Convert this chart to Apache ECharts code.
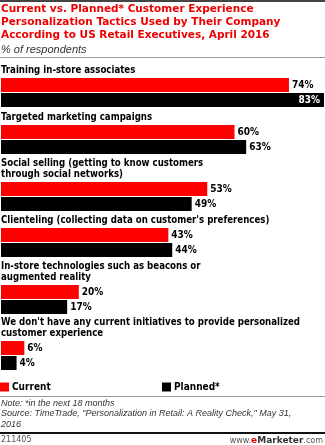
<!DOCTYPE html>
<html>
<head>
<meta charset="utf-8">
<script src="https://cdn.jsdelivr.net/npm/echarts@6/dist/echarts.min.js"></script>
<style>
  html, body { margin: 0; padding: 0; background: #fff; }
  #chart { width: 325px; height: 445px; }
</style>
</head>
<body>
<div id="chart"></div>
<script>
// Personalization tactics, % of respondents
const categories = [
  'Training in-store associates',
  'Targeted marketing campaigns',
  'Social selling (getting to know customers\nthrough social networks)',
  "Clienteling (collecting data on customer's preferences)",
  'In-store technologies such as beacons or\naugmented reality',
  "We don't have any current initiatives to provide personalized\ncustomer experience"
];
const currentValues = [74, 60, 53, 43, 20, 6];
const plannedValues = [83, 63, 49, 44, 17, 4];
const seriesNames = ['Current', 'Planned*'];

const titleLines = [
  'Current vs. Planned* Customer Experience',
  'Personalization Tactics Used by Their Company',
  'According to US Retail Executives, April 2016'
];
const subtitle = '% of respondents';
const noteText = 'Note: *in the next 18 months';
const sourceText = 'Source: TimeTrade, "Personalization in Retail: A Reality Check," May 31,\n2016';
const chartId = '211405';

const RED = '#ff0000';
const BLACK = '#000000';
const FONT = 'DejaVu Sans';
const FONT_C = '"DejaVu Sans Condensed", "DejaVu Sans"';
const FONT_A = '"Liberation Sans", Arial, sans-serif';

// vertical layout of each group (top of the red bar)
const barTops = [78, 125, 182, 228, 285, 341];
const BAR_W = 14;
const LINE_H = 11;

const chart = echarts.init(document.getElementById('chart'), null, { renderer: 'canvas' });

const grids = [], xAxes = [], yAxes = [], series = [], graphics = [];

categories.forEach((cat, i) => {
  grids.push({ left: 1, width: 323, top: barTops[i] - 0.5, height: 30, containLabel: false });
  xAxes.push({ type: 'value', gridIndex: i, min: 0, max: 83, show: false });
  yAxes.push({ type: 'category', gridIndex: i, data: [cat], inverse: true, show: false });
  const vals = [currentValues[i], plannedValues[i]];
  vals.forEach((v, s) => {
    const inside = v >= 80;
    series.push({
      type: 'bar',
      name: seriesNames[s],
      xAxisIndex: i,
      yAxisIndex: i,
      data: [v],
      barWidth: BAR_W,
      barGap: '7%',
      silent: true,
      itemStyle: { color: s === 0 ? RED : BLACK },
      label: {
        show: true,
        position: inside ? 'insideRight' : 'right',
        distance: inside ? 4 : 3,
        formatter: '{c}%',
        color: inside ? '#fff' : '#000',
        fontFamily: FONT_C,
        fontWeight: 'bold',
        fontSize: 10
      }
    });
  });
  const nLines = cat.split('\n').length;
  graphics.push({
    type: 'text',
    left: 1,
    top: barTops[i] - nLines * LINE_H - 2,
    style: {
      text: cat,
      fontFamily: FONT_C,
      fontWeight: 'bold',
      fontSize: 9.6,
      lineHeight: LINE_H,
      fill: '#000'
    }
  });
});

// frame lines and header / footer texts
graphics.push(
  { type: 'rect', shape: { x: 0, y: 0, width: 325, height: 2 }, style: { fill: '#444' } },
  {
    type: 'text', left: 1, top: 3,
    style: {
      text: titleLines.join('\n'),
      fontFamily: FONT, fontWeight: 'bold', fontSize: 10.5, lineHeight: 13, fill: '#ee0000'
    }
  },
  {
    type: 'text', left: 1, top: 44,
    style: { text: subtitle, fontFamily: FONT_A, fontStyle: 'italic', fontSize: 11, fill: '#333' }
  },
  { type: 'rect', shape: { x: 0, y: 57, width: 325, height: 1 }, style: { fill: '#999' } },
  { type: 'rect', shape: { x: 0, y: 396, width: 325, height: 1 }, style: { fill: '#999' } },
  {
    type: 'text', left: 1, top: 398,
    style: {
      text: noteText + '\n' + sourceText,
      fontFamily: FONT_A, fontStyle: 'italic', fontSize: 9, lineHeight: 10.5, fill: '#333'
    }
  },
  { type: 'rect', shape: { x: 0, y: 432, width: 325, height: 2 }, style: { fill: '#111' } },
  {
    type: 'text', left: 1, top: 436,
    style: { text: chartId, fontFamily: FONT, fontSize: 8, fill: '#555' }
  },
  {
    type: 'text', right: 2, top: 436,
    style: {
      text: '{w|www.}{e|e}{m|Marketer}{w|.com}',
      rich: {
        w: { fontFamily: FONT, fontSize: 8, fill: '#555' },
        e: { fontFamily: FONT, fontSize: 9, fontWeight: 'bold', fill: '#e00' },
        m: { fontFamily: FONT, fontSize: 9, fontWeight: 'bold', fill: '#333' }
      }
    }
  }
);

const legendText = { fontFamily: FONT_C, fontWeight: 'bold', fontSize: 10, color: '#000' };

chart.setOption({
  animation: false,
  grid: grids,
  xAxis: xAxes,
  yAxis: yAxes,
  legend: [
    {
      left: 0, top: 382, padding: 0, data: [seriesNames[0]], icon: 'rect', itemWidth: 9, itemHeight: 9,
      selectedMode: false, textStyle: Object.assign({ padding: [0, 0, 0, -2] }, legendText)
    },
    {
      left: 162, top: 382, padding: 0, data: [seriesNames[1]], icon: 'rect', itemWidth: 9, itemHeight: 9,
      selectedMode: false, textStyle: Object.assign({ padding: [0, 0, 0, -2] }, legendText)
    }
  ],
  series: series,
  graphic: graphics
});
</script>
</body>
</html>
